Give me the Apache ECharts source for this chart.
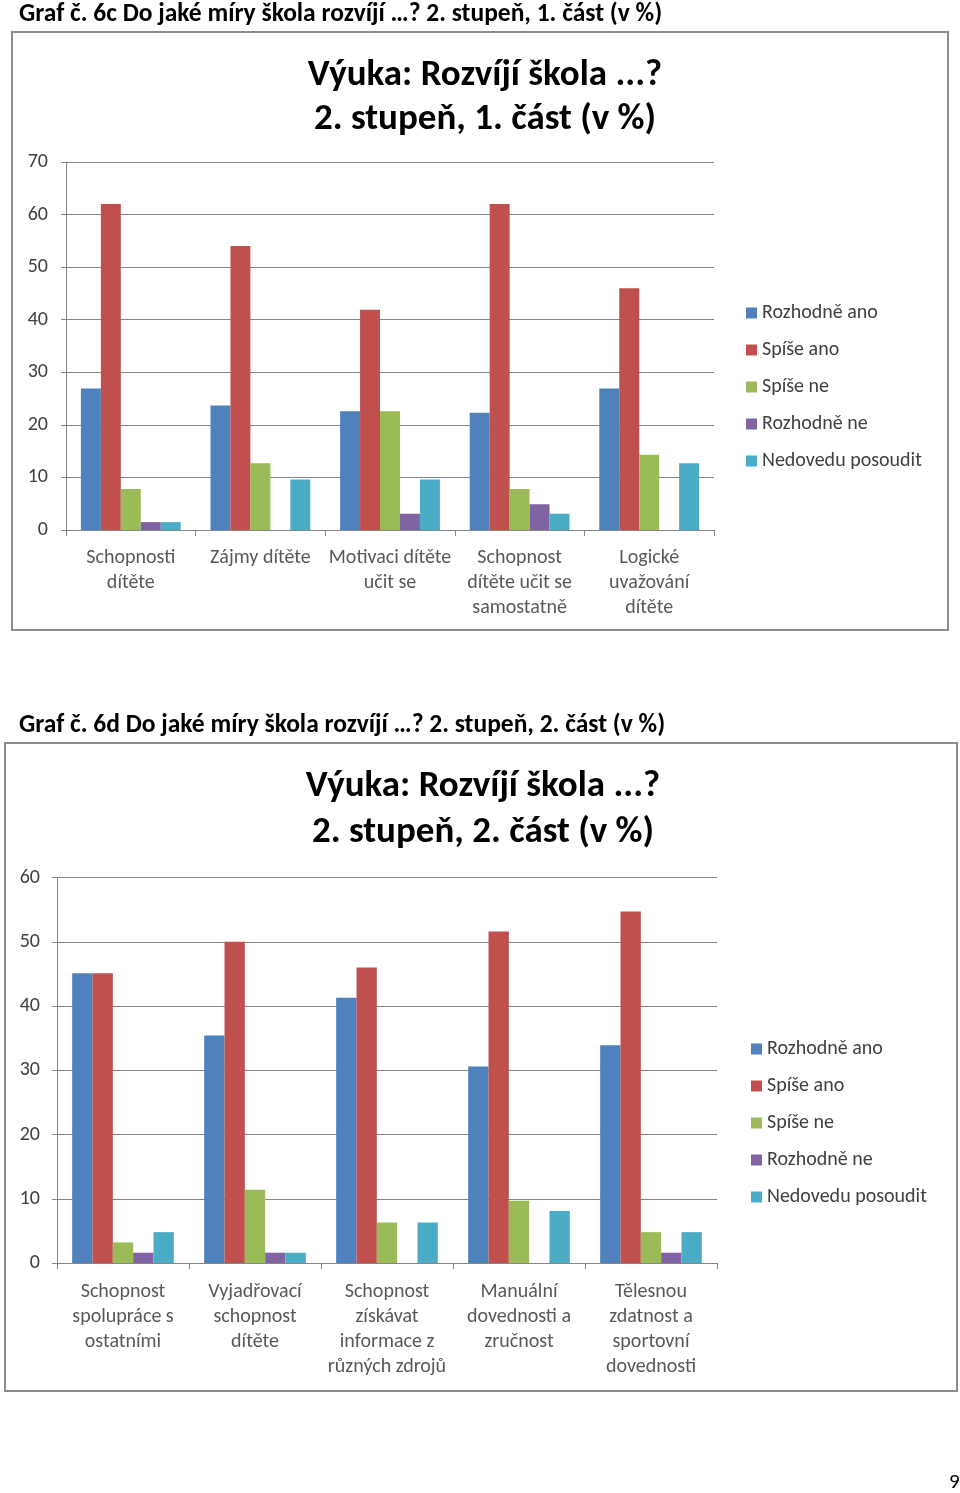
<!DOCTYPE html>
<html><head><meta charset="utf-8">
<script src="https://cdn.jsdelivr.net/npm/echarts@6/dist/echarts.min.js"></script>
<style>html,body{margin:0;padding:0;background:#fff}#c{width:960px;height:1493px}</style>
</head><body><div id="c"></div>
<script>
const seriesNames = ['Rozhodně ano', 'Spíše ano', 'Spíše ne', 'Rozhodně ne', 'Nedovedu posoudit'];
const colors = ['#4F81BD', '#C0504D', '#9BBB59', '#8064A2', '#4BACC6'];

// Chart 6c
const categories1 = ['Schopnosti\ndítěte', 'Zájmy dítěte', 'Motivaci dítěte\nučit se', 'Schopnost\ndítěte učit se\nsamostatně', 'Logické\nuvažování\ndítěte'];
const rozhodneAno1 = [26.9, 23.7, 22.6, 22.3, 26.9];
const spiseAno1 = [62.0, 54.0, 41.9, 62.0, 46.0];
const spiseNe1 = [7.8, 12.7, 22.6, 7.8, 14.3];
const rozhodneNe1 = [1.5, 0, 3.1, 4.9, 0];
const nedovedu1 = [1.5, 9.6, 9.6, 3.1, 12.7];
const yTicks1 = { min: 0, max: 70, interval: 10 };

// Chart 6d
const categories2 = ['Schopnost\nspolupráce s\nostatními', 'Vyjadřovací\nschopnost\ndítěte', 'Schopnost\nzískávat\ninformace z\nrůzných zdrojů', 'Manuální\ndovednosti a\nzručnost', 'Tělesnou\nzdatnost a\nsportovní\ndovednosti'];
const rozhodneAno2 = [45.1, 35.4, 41.3, 30.6, 33.9];
const spiseAno2 = [45.1, 50.0, 46.0, 51.6, 54.7];
const spiseNe2 = [3.2, 11.4, 6.3, 9.7, 4.8];
const rozhodneNe2 = [1.6, 1.6, 0, 0, 1.6];
const nedovedu2 = [4.8, 1.6, 6.3, 8.1, 4.8];
const yTicks2 = { min: 0, max: 60, interval: 10 };

const FONT = 'Carlito, Lato, "Open Sans", sans-serif';
const chart = echarts.init(document.getElementById('c'), null, { renderer: 'canvas' });

function yAxis(grid, t, margin) {
  return {
    type: 'value', gridIndex: grid, min: t.min, max: t.max, interval: t.interval,
    axisLine: { show: true, lineStyle: { color: '#868686', width: 1 } },
    axisTick: { show: true, length: 5, lineStyle: { color: '#868686' } },
    splitLine: { lineStyle: { color: '#868686', width: 1 } },
    axisLabel: { color: '#404040', fontSize: 20, fontFamily: FONT, margin: margin }
  };
}
function xAxis(grid, cats, margin) {
  return {
    type: 'category', gridIndex: grid, data: cats,
    axisLine: { lineStyle: { color: '#868686', width: 1 } },
    axisTick: { show: true, length: 6, alignWithLabel: false, lineStyle: { color: '#868686' } },
    axisLabel: { color: '#595959', fontSize: 20, lineHeight: 25, fontFamily: FONT, margin: margin, interval: 0 }
  };
}
function mkSeries(idx, arrays) {
  return arrays.map((d, i) => ({
    name: seriesNames[i], type: 'bar', xAxisIndex: idx, yAxisIndex: idx, data: d,
    barGap: '0%', barCategoryGap: '23%', itemStyle: { color: colors[i] }, silent: true
  }));
}
const legendCommon = {
  orient: 'vertical', icon: 'rect', itemWidth: 11, itemHeight: 11,
  textStyle: { fontSize: 20, fontFamily: FONT, color: '#404040', lineHeight: 20 }, itemGap: 17,
  data: seriesNames, selectedMode: false
};

chart.setOption({
  animation: false,
  title: [
    { text: 'Výuka: Rozvíjí škola ...?\n2. stupeň, 1. část (v %)', left: 480, top: 49, textAlign: 'center',
      textStyle: { fontSize: 37, fontWeight: 'bold', fontFamily: FONT, color: '#000', lineHeight: 44 } },
    { text: 'Výuka: Rozvíjí škola ...?\n2. stupeň, 2. část (v %)', left: 478, top: 759, textAlign: 'center',
      textStyle: { fontSize: 37, fontWeight: 'bold', fontFamily: FONT, color: '#000', lineHeight: 46 } }
  ],
  graphic: [
    { type: 'text', left: 19, top: 2, style: { text: 'Graf č. 6c Do jaké míry škola rozvíjí …? 2. stupeň, 1. část (v %)', font: 'bold 25.5px ' + FONT, fill: '#000' } },
    { type: 'text', left: 19, top: 713, style: { text: 'Graf č. 6d Do jaké míry škola rozvíjí …? 2. stupeň, 2. část (v %)', font: 'bold 25.5px ' + FONT, fill: '#000' } },
    { type: 'text', left: 949, top: 1472, style: { text: '9', font: '21px ' + FONT, fill: '#000' } },
    { type: 'rect', shape: { x: 12, y: 32, width: 936, height: 598 }, style: { fill: 'none', stroke: '#8c8c8c', lineWidth: 2 }, z: -1 },
    { type: 'rect', shape: { x: 5, y: 743, width: 952, height: 648 }, style: { fill: 'none', stroke: '#8c8c8c', lineWidth: 2 }, z: -1 }
  ],
  legend: [
    Object.assign({ left: 741, top: 298 }, legendCommon),
    Object.assign({ left: 746, top: 1034, itemGap: 18 }, legendCommon)
  ],
  grid: [
    { left: 66, top: 162, width: 648, height: 368 },
    { left: 57, top: 877.5, width: 660, height: 385.5 }
  ],
  xAxis: [xAxis(0, categories1, 15), xAxis(1, categories2, 16)],
  yAxis: [yAxis(0, yTicks1, 18), yAxis(1, yTicks2, 17)],
  series: mkSeries(0, [rozhodneAno1, spiseAno1, spiseNe1, rozhodneNe1, nedovedu1])
    .concat(mkSeries(1, [rozhodneAno2, spiseAno2, spiseNe2, rozhodneNe2, nedovedu2]))
});
</script></body></html>
